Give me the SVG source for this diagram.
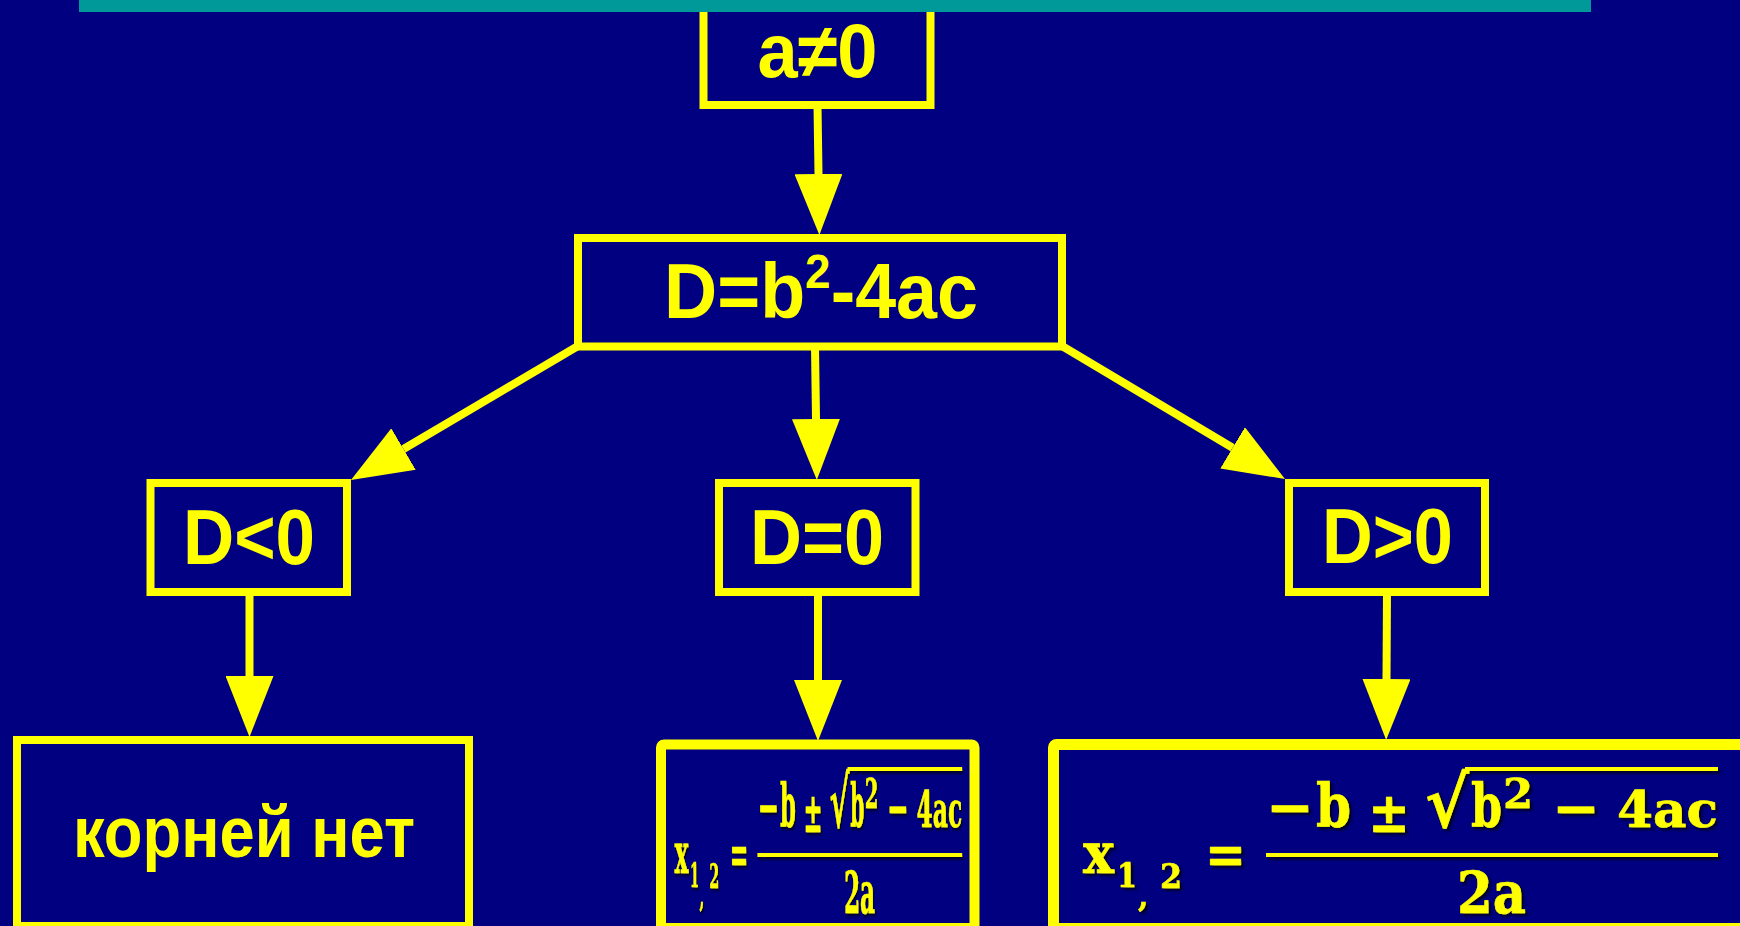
<svg xmlns="http://www.w3.org/2000/svg" width="1740" height="926" viewBox="0 0 1740 926">
<style>
.box{fill:none;stroke:#FFFF00;stroke-width:8;stroke-linejoin:miter}
.fbox{fill:none;stroke:#FFFF00;stroke-width:10;stroke-linejoin:round}
.lbl{font-family:"Liberation Sans",Arial,sans-serif;font-weight:bold;fill:#FFFF00}
.f{font-family:"DejaVu Serif","Liberation Serif",serif;font-weight:bold;fill:#FFFF00;stroke:#FFFF00;stroke-width:0.6}
.conn{stroke:#FFFF00;stroke-width:8;fill:none}
.rule{stroke:#FFFF00;stroke-width:4}
</style>
<defs>
<marker id="ah" markerUnits="userSpaceOnUse" markerWidth="61" markerHeight="48" refX="0" refY="24" orient="auto" viewBox="0 0 61 48">
<path d="M0,0 L61,24 L0,48 Z" fill="#FFFF00"/>
</marker>
<filter id="sh" x="-5%" y="-5%" width="115%" height="120%">
<feDropShadow dx="2.5" dy="2.5" stdDeviation="1.2" flood-color="#000018" flood-opacity="0.85"/>
</filter>
</defs>
<rect x="0" y="0" width="1740" height="926" fill="#000080"/>

<g id="connectors">
<line class="conn" x1="817.5" y1="105" x2="818.5" y2="174" marker-end="url(#ah)"/>
<line class="conn" x1="815" y1="346" x2="816" y2="419" marker-end="url(#ah)"/>
<line class="conn" x1="578" y1="346" x2="403.5" y2="449" marker-end="url(#ah)"/>
<line class="conn" x1="1062" y1="346" x2="1232.6" y2="447.8" marker-end="url(#ah)"/>
<line class="conn" x1="249.5" y1="592" x2="249.5" y2="676" marker-end="url(#ah)"/>
<line class="conn" x1="818" y1="592" x2="818" y2="680" marker-end="url(#ah)"/>
<line class="conn" x1="1387" y1="592" x2="1386.5" y2="679" marker-end="url(#ah)"/>
</g>

<g id="node-a">
<rect class="box" x="703.5" y="-20" width="227" height="125"/>
<text class="lbl" x="817.5" y="77" font-size="76" text-anchor="middle" textLength="120" lengthAdjust="spacingAndGlyphs">a≠0</text>
</g>

<g id="node-discriminant">
<rect class="box" x="578" y="238" width="484" height="108.5"/>
<text class="lbl" x="664" y="318" font-size="77" textLength="314" lengthAdjust="spacingAndGlyphs">D=b<tspan font-size="48" dy="-30">2</tspan><tspan dy="30">-4ac</tspan></text>
</g>

<g id="node-dneg">
<rect class="box" x="150.5" y="483" width="196.5" height="109"/>
<text class="lbl" x="249" y="564" font-size="77" text-anchor="middle" textLength="132" lengthAdjust="spacingAndGlyphs">D&lt;0</text>
</g>

<g id="node-dzero">
<rect class="box" x="719" y="483" width="196.5" height="109"/>
<text class="lbl" x="817" y="564" font-size="77" text-anchor="middle" textLength="134" lengthAdjust="spacingAndGlyphs">D=0</text>
</g>

<g id="node-dpos">
<rect class="box" x="1289" y="483" width="196" height="109"/>
<text class="lbl" x="1387.5" y="563" font-size="77" text-anchor="middle" textLength="131" lengthAdjust="spacingAndGlyphs">D&gt;0</text>
</g>

<g id="node-noroots">
<rect class="box" x="17" y="740" width="452" height="186"/>
<text class="lbl" x="244" y="857" font-size="72" text-anchor="middle" textLength="342" lengthAdjust="spacingAndGlyphs">корней нет</text>
</g>

<g id="node-formula-mid">
<rect class="fbox" x="661" y="744.5" width="313.5" height="183.5" rx="3"/>
<g transform="translate(183.9,0) scale(0.453,1)" filter="url(#sh)">
<text class="f" x="1083" y="873" font-size="56" textLength="31" lengthAdjust="spacingAndGlyphs">x</text>
<text class="f" x="1117" y="887" font-size="34" textLength="20" lengthAdjust="spacingAndGlyphs">1</text>
<text class="f" x="1138" y="907" font-size="30">,</text>
<text class="f" x="1160" y="888" font-size="34" textLength="22" lengthAdjust="spacingAndGlyphs">2</text>
<text class="f" x="1205" y="873" font-size="55" textLength="41" lengthAdjust="spacingAndGlyphs">=</text>
<line class="rule" x1="1266" y1="855" x2="1718" y2="855"/>
<text class="f" x="1266" y="827" font-size="58" textLength="48" lengthAdjust="spacingAndGlyphs">−</text>
<text class="f" x="1316" y="827" font-size="59" textLength="35" lengthAdjust="spacingAndGlyphs">b</text>
<text class="f" x="1368" y="832" font-size="56" textLength="42" lengthAdjust="spacingAndGlyphs">±</text>
<text class="f" x="1425" y="827" font-size="70" textLength="44" lengthAdjust="spacingAndGlyphs">√</text>
<line class="rule" x1="1465" y1="769" x2="1718" y2="769"/>
<text class="f" x="1471" y="827" font-size="60" textLength="31" lengthAdjust="spacingAndGlyphs">b</text>
<text class="f" x="1503" y="808" font-size="41" textLength="30" lengthAdjust="spacingAndGlyphs">2</text>
<text class="f" x="1552" y="827" font-size="55" textLength="48" lengthAdjust="spacingAndGlyphs">−</text>
<text class="f" x="1617" y="827" font-size="51" textLength="101" lengthAdjust="spacingAndGlyphs">4ac</text>
<text class="f" x="1457" y="913" font-size="57" textLength="69" lengthAdjust="spacingAndGlyphs">2a</text>
</g>
</g>

<g id="node-formula-right">
<rect class="fbox" x="1053.5" y="744.5" width="720" height="184" rx="3" style="stroke-width:11"/>
<g filter="url(#sh)">
<text class="f" x="1083" y="873" font-size="56" textLength="31" lengthAdjust="spacingAndGlyphs">x</text>
<text class="f" x="1117" y="887" font-size="34" textLength="20" lengthAdjust="spacingAndGlyphs">1</text>
<text class="f" x="1138" y="907" font-size="30">,</text>
<text class="f" x="1160" y="888" font-size="34" textLength="22" lengthAdjust="spacingAndGlyphs">2</text>
<text class="f" x="1205" y="873" font-size="55" textLength="41" lengthAdjust="spacingAndGlyphs">=</text>
<line class="rule" x1="1266" y1="855" x2="1718" y2="855"/>
<text class="f" x="1266" y="827" font-size="58" textLength="48" lengthAdjust="spacingAndGlyphs">−</text>
<text class="f" x="1316" y="827" font-size="59" textLength="35" lengthAdjust="spacingAndGlyphs">b</text>
<text class="f" x="1368" y="832" font-size="56" textLength="42" lengthAdjust="spacingAndGlyphs">±</text>
<text class="f" x="1425" y="827" font-size="70" textLength="44" lengthAdjust="spacingAndGlyphs">√</text>
<line class="rule" x1="1465" y1="769" x2="1718" y2="769"/>
<text class="f" x="1471" y="827" font-size="60" textLength="31" lengthAdjust="spacingAndGlyphs">b</text>
<text class="f" x="1503" y="808" font-size="41" textLength="30" lengthAdjust="spacingAndGlyphs">2</text>
<text class="f" x="1552" y="827" font-size="55" textLength="48" lengthAdjust="spacingAndGlyphs">−</text>
<text class="f" x="1617" y="827" font-size="51" textLength="101" lengthAdjust="spacingAndGlyphs">4ac</text>
<text class="f" x="1457" y="913" font-size="57" textLength="69" lengthAdjust="spacingAndGlyphs">2a</text>
</g>
</g>

<rect x="79" y="0" width="1512" height="12" fill="#009999"/>
</svg>
